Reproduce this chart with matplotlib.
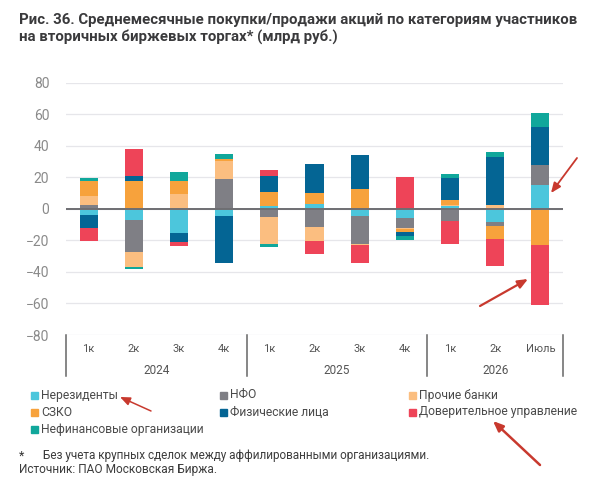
import matplotlib
matplotlib.use("Agg")
import matplotlib.pyplot as plt
import numpy as np

plt.rcParams['font.family'] = ['Roboto', 'DejaVu Sans']

quarters = ['1к', '2к', '3к', '4к', '1к', '2к', '3к', '4к', '1к', '2к', 'Июль']
years = ['2024', '2025', '2026']
year_edges = [-0.5, 3.5, 7.5, 10.5]

# значения, млрд руб.
nonres = [-4, -7.2, -15.5, -4.6, 1.7, 2.8, -4.7, -6.1, 1.7, -8.5, 15]
nfo = [2.3, -20.3, 0, 18.9, -5.3, -11.7, -17.8, -6.1, -7.6, -2.1, 13.1]
other_banks = [6, -9.3, 9.3, 11.6, -17.2, -8.5, -0.6, -0.8, 0.6, 2.3, 0]
szko = [9.5, 17.5, 8.3, 0.9, 8.7, 7.4, 12.3, -1.7, 3, -8.7, -23.1]
retail = [-8.3, 3.4, -5.3, -30, 10.6, 18.4, 21.6, -2.5, 14.4, 30.5, 23.7]
trust = [-8, 16.8, -2.8, 0, 3.4, -8.7, -11, 20.1, -14.4, -17.2, -37.7]
nonfin = [2, -1.2, 5.7, 3.2, -1.9, 0, 0, -2.8, 2.3, 3.2, 8.9]

series = [
    ('Нерезиденты', nonres, '#4cc6dc'),
    ('НФО', nfo, '#7f7f85'),
    ('Прочие банки', other_banks, '#fbbe80'),
    ('СЗКО', szko, '#f7a23c'),
    ('Физические лица', retail, '#046594'),
    ('Доверительное управление', trust, '#ee4458'),
    ('Нефинансовые организации', nonfin, '#10a79b'),
]

W, H = 596, 488
fig = plt.figure(figsize=(W / 100, H / 100), dpi=100)
ax = fig.add_axes([66 / W, 1 - 335 / H, (563 - 66) / W, (335 - 82.7) / H])

x = np.arange(len(quarters))
pos = np.zeros(len(quarters))
neg = np.zeros(len(quarters))
for name, vals, color in series:
    vals = np.array(vals, dtype=float)
    bottoms = np.where(vals >= 0, pos, neg)
    ax.bar(x, vals, 0.4, bottom=bottoms, color=color, zorder=3)
    pos += np.clip(vals, 0, None)
    neg += np.clip(vals, None, 0)

ax.set_xlim(-0.5, 10.5)
ax.set_ylim(-80, 80)
ax.set_yticks(range(-80, 81, 20))
ax.tick_params(axis='y', length=0, labelsize=10, labelcolor='#8a8a8a', pad=12)
ax.set_xticks([])
ax.grid(axis='y', color='#e6e6ea', lw=0.9)
ax.set_axisbelow(True)
for s in ax.spines.values():
    s.set_visible(False)
ax.axhline(0, color='#6e6e72', lw=1.4, zorder=4)

# подписи оси x
trans = ax.get_xaxis_transform()
for i, q in enumerate(quarters):
    ax.text(i, -13.7 / 252.3, q, transform=trans, ha='center', va='center',
            fontsize=8, color='#555555')
for i, year in enumerate(years):
    mid = (year_edges[i] + year_edges[i + 1]) / 2
    ax.text(mid, -35 / 252.3, year, transform=trans, ha='center', va='center',
            fontsize=8.5, color='#555555')
for e in year_edges:
    ax.plot([e, e], [0, -41 / 252.3], transform=trans, color='#666666', lw=1.1,
            clip_on=False)


def tx(px, py, s, **kw):
    fig.text(px / W, 1 - py / H, s, va='center', **kw)


tx(19, 20, 'Рис. 36. Среднемесячные покупки/продажи акций по категориям участников',
   fontsize=10.85, fontweight='bold', color='#3a3a3c')
tx(19, 37, 'на вторичных биржевых торгах* (млрд руб.)',
   fontsize=10.85, fontweight='bold', color='#3a3a3c')

# легенда
legend_pos = [(31, 395), (220, 395), (409, 395),
              (31, 412), (220, 412), (409, 412),
              (31, 429)]
for (name, vals, color), (lx, ly) in zip(series, legend_pos):
    fig.patches.append(plt.Rectangle((lx / W, 1 - (ly + 3.5) / H), 7 / W, 7 / H,
                                     transform=fig.transFigure, color=color))
    tx(lx + 10, ly, name, fontsize=8.75, color='#4a4a4a')

tx(19, 456, '*', fontsize=9, color='#333333')
tx(43, 456, 'Без учета крупных сделок между аффилированными организациями.',
   fontsize=8.5, color='#3c3c3c')
tx(19, 470, 'Источник: ПАО Московская Биржа.', fontsize=8.6, color='#3c3c3c')

# красные стрелки поверх картинки
arrows = [((577, 158), (551, 193), 1.3), ((480, 306), (528, 279), 1.6),
          ((151, 411), (120, 397), 1.1), ((540, 465), (493, 421), 1.8)]
for start, end, lw in arrows:
    ax.annotate('', xy=(end[0], H - end[1]), xytext=(start[0], H - start[1]),
                xycoords='figure pixels', textcoords='figure pixels',
                annotation_clip=False, zorder=6,
                arrowprops=dict(arrowstyle='-|>,head_width=0.25,head_length=0.6',
                                color='#c8392e', lw=lw, shrinkA=0, shrinkB=0))

fig.savefig('out.png', dpi=100)
